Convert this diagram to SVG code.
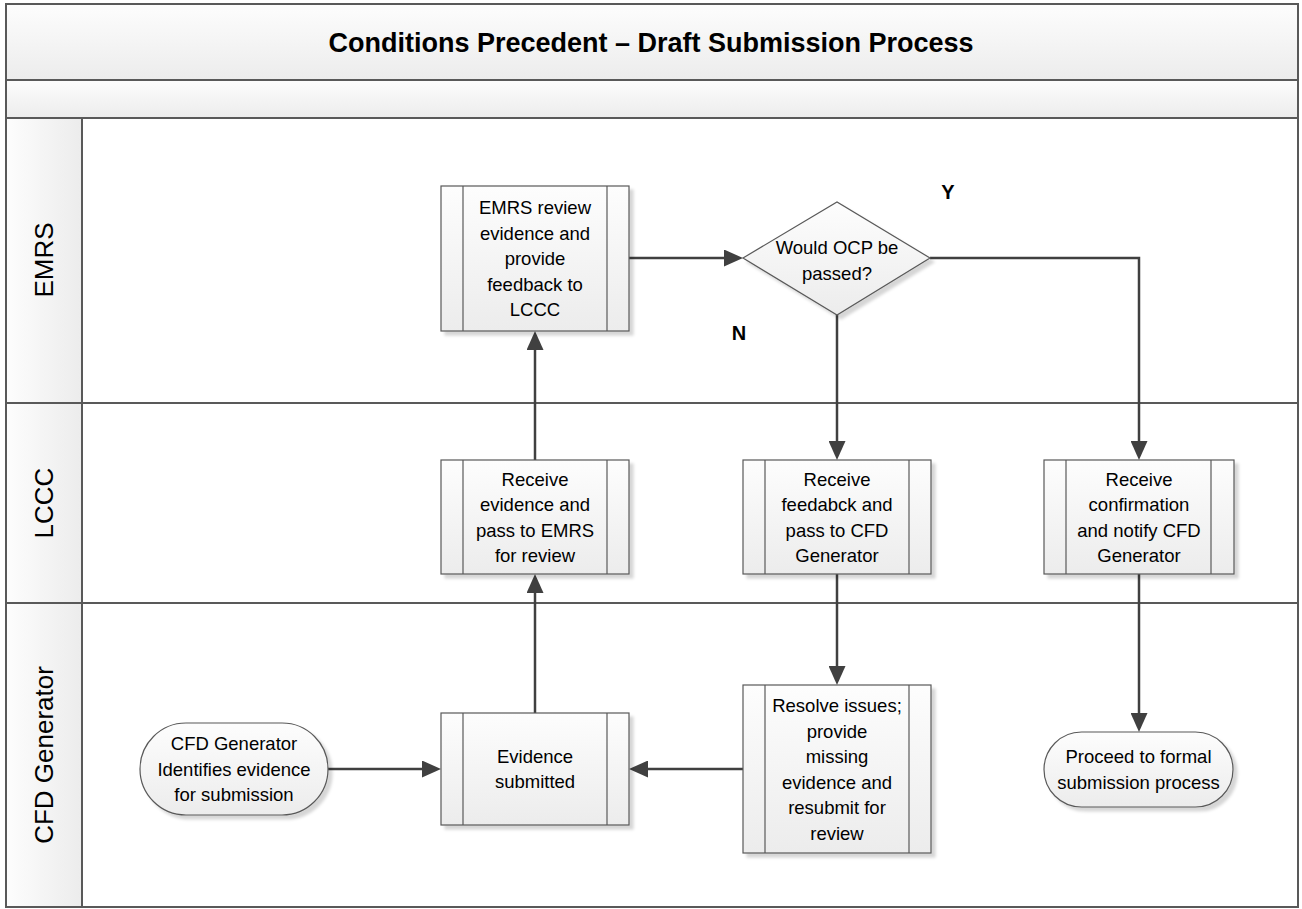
<svg xmlns="http://www.w3.org/2000/svg" width="1302" height="909" viewBox="0 0 1302 909">
<defs>
<linearGradient id="gv" x1="0" y1="0" x2="0" y2="1"><stop offset="0" stop-color="#fdfdfd"/><stop offset="1" stop-color="#ececec"/></linearGradient>
<linearGradient id="gh" x1="0" y1="0" x2="1" y2="0"><stop offset="0" stop-color="#fdfdfd"/><stop offset="1" stop-color="#ececec"/></linearGradient>
<filter id="sh" x="-10%" y="-10%" width="130%" height="130%"><feDropShadow dx="4" dy="4" stdDeviation="1.5" flood-color="#000" flood-opacity="0.16"/></filter>
<marker id="ah" viewBox="0 0 19 17" markerWidth="19" markerHeight="17" refX="11" refY="8.5" orient="auto" markerUnits="userSpaceOnUse"><path d="M0,0 L19,8.5 L0,17 z" fill="#404040"/></marker>
</defs>
<style>
.frame{fill:none;stroke:#595959;stroke-width:2}
.shape{fill:url(#gv);stroke:#595959;stroke-width:1.2;filter:url(#sh)}
.inner{stroke:#595959;stroke-width:1.2}
.t{font-family:"Liberation Sans",Arial,sans-serif;font-size:18.5px;fill:#000;text-anchor:middle}
.lane{font-family:"Liberation Sans",Arial,sans-serif;font-size:26px;fill:#000;text-anchor:middle}
.title{font-family:"Liberation Sans",Arial,sans-serif;font-size:27px;font-weight:bold;fill:#000;text-anchor:middle}
.yn{font-family:"Liberation Sans",Arial,sans-serif;font-size:20px;font-weight:bold;fill:#000;text-anchor:middle}
.conn{fill:none;stroke:#404040;stroke-width:2.5;marker-end:url(#ah)}
</style>
<rect width="1302" height="909" fill="#fff"/>
<g id="pool">
<rect x="6" y="4" width="1292" height="76" fill="url(#gv)"/>
<rect x="6" y="80" width="1292" height="38" fill="url(#gv)"/>
<rect x="6" y="118" width="76" height="789" fill="url(#gh)"/>
<rect x="6" y="4" width="1292" height="903" class="frame"/>
<line x1="6" y1="80" x2="1298" y2="80" class="frame"/>
<line x1="6" y1="118" x2="1298" y2="118" class="frame"/>
<line x1="82" y1="118" x2="82" y2="907" class="frame"/>
<line x1="6" y1="403" x2="1298" y2="403" class="frame"/>
<line x1="6" y1="603" x2="1298" y2="603" class="frame"/>
<text x="651" y="51.5" class="title">Conditions Precedent – Draft Submission Process</text>
<text class="lane" transform="translate(44,260) rotate(-90)" y="9">EMRS</text>
<text class="lane" transform="translate(44,503) rotate(-90)" y="9">LCCC</text>
<text class="lane" transform="translate(44,755) rotate(-90)" y="9">CFD Generator</text>
</g>
<g id="connectors">
<path class="conn" d="M328,769 H433"/>
<path class="conn" d="M535,713 V582"/>
<path class="conn" d="M535,460 V339"/>
<path class="conn" d="M629,258 H735"/>
<path class="conn" d="M837,315 V452"/>
<path class="conn" d="M930,258 H1139 V452"/>
<path class="conn" d="M837,574 V677"/>
<path class="conn" d="M743,769 H637"/>
<path class="conn" d="M1139,574 V724"/>
<text x="948" y="199" class="yn">Y</text>
<text x="739" y="340" class="yn">N</text>
</g>
<g id="n-emrs-review">
<rect x="441" y="186" width="188" height="145" class="shape"/>
<line x1="463" y1="186" x2="463" y2="331" class="inner"/>
<line x1="607" y1="186" x2="607" y2="331" class="inner"/>
<text class="t" x="535"><tspan x="535" y="214">EMRS review</tspan><tspan x="535" y="239.5">evidence and</tspan><tspan x="535" y="265">provide</tspan><tspan x="535" y="290.5">feedback to</tspan><tspan x="535" y="316">LCCC</tspan></text>
</g>
<g id="n-decision">
<polygon points="743,258 837,202 930,258 837,315" class="shape"/>
<text class="t"><tspan x="837" y="253.5">Would OCP be</tspan><tspan x="837" y="279.5">passed?</tspan></text>
</g>
<g id="n-receive-evidence">
<rect x="441" y="460" width="188" height="114" class="shape"/>
<line x1="463" y1="460" x2="463" y2="574" class="inner"/>
<line x1="607" y1="460" x2="607" y2="574" class="inner"/>
<text class="t"><tspan x="535" y="485.5">Receive</tspan><tspan x="535" y="511">evidence and</tspan><tspan x="535" y="536.5">pass to EMRS</tspan><tspan x="535" y="562">for review</tspan></text>
</g>
<g id="n-receive-feedback">
<rect x="743" y="460" width="188" height="114" class="shape"/>
<line x1="765" y1="460" x2="765" y2="574" class="inner"/>
<line x1="909" y1="460" x2="909" y2="574" class="inner"/>
<text class="t"><tspan x="837" y="485.5">Receive</tspan><tspan x="837" y="511">feedabck and</tspan><tspan x="837" y="536.5">pass to CFD</tspan><tspan x="837" y="562">Generator</tspan></text>
</g>
<g id="n-receive-confirmation">
<rect x="1044" y="460" width="190" height="114" class="shape"/>
<line x1="1066" y1="460" x2="1066" y2="574" class="inner"/>
<line x1="1211" y1="460" x2="1211" y2="574" class="inner"/>
<text class="t"><tspan x="1139" y="485.5">Receive</tspan><tspan x="1139" y="511">confirmation</tspan><tspan x="1139" y="536.5">and notify CFD</tspan><tspan x="1139" y="562">Generator</tspan></text>
</g>
<g id="n-start">
<rect x="140" y="723" width="188" height="92" rx="46" ry="46" class="shape"/>
<text class="t"><tspan x="234" y="750">CFD Generator</tspan><tspan x="234" y="775.5">Identifies evidence</tspan><tspan x="234" y="801">for submission</tspan></text>
</g>
<g id="n-evidence-submitted">
<rect x="441" y="713" width="188" height="112" class="shape"/>
<line x1="463" y1="713" x2="463" y2="825" class="inner"/>
<line x1="607" y1="713" x2="607" y2="825" class="inner"/>
<text class="t"><tspan x="535" y="762.5">Evidence</tspan><tspan x="535" y="788">submitted</tspan></text>
</g>
<g id="n-resolve">
<rect x="743" y="685" width="188" height="168" class="shape"/>
<line x1="765" y1="685" x2="765" y2="853" class="inner"/>
<line x1="909" y1="685" x2="909" y2="853" class="inner"/>
<text class="t"><tspan x="837" y="712">Resolve issues;</tspan><tspan x="837" y="737.5">provide</tspan><tspan x="837" y="763">missing</tspan><tspan x="837" y="788.5">evidence and</tspan><tspan x="837" y="814">resubmit for</tspan><tspan x="837" y="839.5">review</tspan></text>
</g>
<g id="n-end">
<rect x="1044" y="732" width="189" height="75" rx="37.5" ry="37.5" class="shape"/>
<text class="t"><tspan x="1138.5" y="763">Proceed to formal</tspan><tspan x="1138.5" y="788.5">submission process</tspan></text>
</g>
</svg>
